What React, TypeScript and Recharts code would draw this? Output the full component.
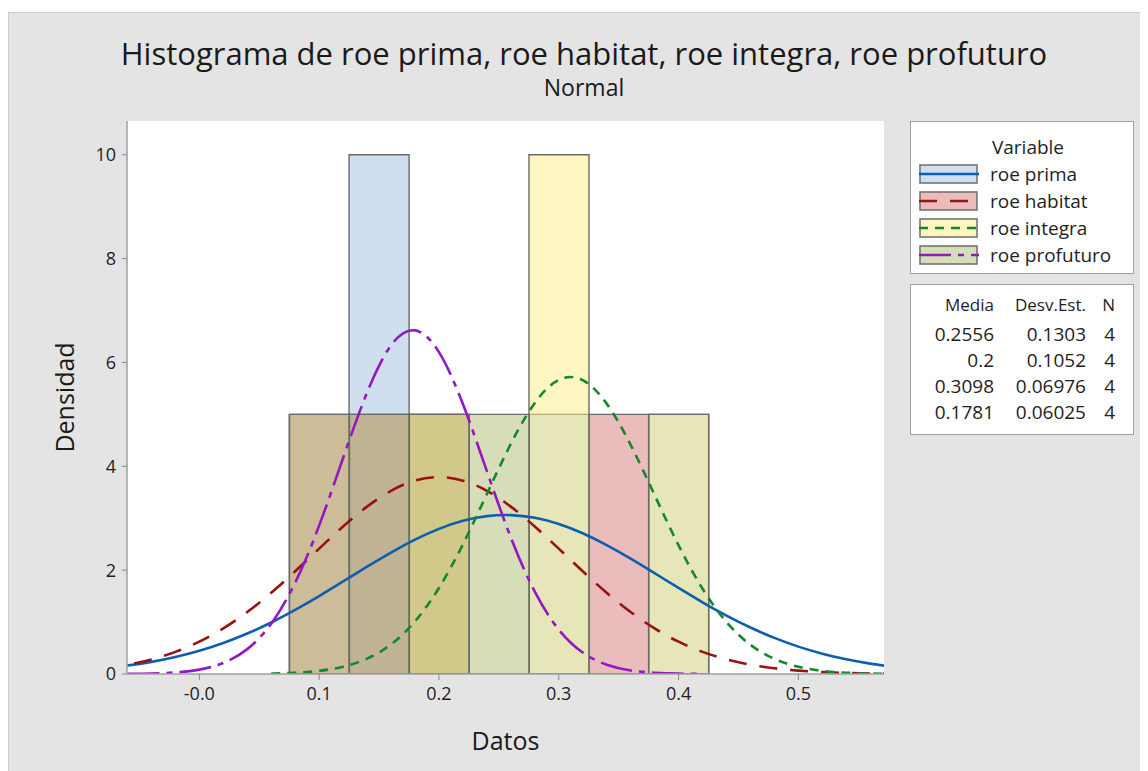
import { ComposedChart, Bar, Line, XAxis, YAxis, CartesianGrid } from 'recharts';

// histogram bins (width 0.05), density = count / (N * 0.05)
const binCenters = [0.1, 0.15, 0.2, 0.25, 0.3, 0.35, 0.4];
const primaHist = [0, 10, 0, 0, 5, 0, 5];
const habitatHist = [5, 5, 5, 0, 0, 5, 0];
const integraHist = [0, 0, 5, 0, 10, 0, 5];
const profuturoHist = [5, 5, 5, 5, 0, 0, 0];

// fitted normal curves
const curveX = [
  -0.08, -0.06, -0.04, -0.02, 0, 0.02, 0.04, 0.06, 0.08, 0.1, 0.12, 0.14, 0.16, 0.18, 0.2, 0.22, 0.24, 0.26,
  0.28, 0.3, 0.32, 0.34, 0.36, 0.38, 0.4, 0.42, 0.44, 0.46, 0.48, 0.5, 0.52, 0.54, 0.56, 0.58, 0.6,
];
const primaCurve = [
  0.111, 0.163, 0.233, 0.327, 0.447, 0.597, 0.779, 0.992, 1.235, 1.5, 1.782, 2.066, 2.339, 2.587, 2.795, 2.95,
  3.04, 3.06, 3.008, 2.889, 2.71, 2.482, 2.221, 1.941, 1.657, 1.381, 1.125, 0.895, 0.695, 0.527, 0.391, 0.283,
  0.2, 0.138, 0.093,
];
const habitatCurve = [
  0.11, 0.179, 0.281, 0.426, 0.622, 0.878, 1.193, 1.564, 1.978, 2.414, 2.84, 3.223, 3.528, 3.724, 3.792, 3.724,
  3.528, 3.223, 2.84, 2.414, 1.978, 1.564, 1.193, 0.878, 0.622, 0.426, 0.281, 0.179, 0.11, 0.065, 0.037, 0.02,
  0.011, 0.006, 0.003,
];
const integraCurve = [
  null, null, null, null, null, null, null, 0.009, 0.025, 0.062, 0.141, 0.296, 0.57, 1.013, 1.657, 2.497,
  3.467, 4.433, 5.22, 5.663, 5.658, 5.207, 4.414, 3.447, 2.479, 1.643, 1.002, 0.563, 0.292, 0.139, 0.061, 0.025,
  0.009, 0.003, 0.001,
];
const profuturoCurve = [
  null, 0.003, 0.009, 0.03, 0.084, 0.212, 0.479, 0.969, 1.759, 2.858, 4.16, 5.421, 6.33, 6.618, 6.198, 5.199,
  3.906, 2.629, 1.585, 0.855, 0.413, 0.179, 0.069, 0.024, 0.007, 0.002, null, null, null, null, null, null,
  null, null, null,
];

const xTicks = [0, 0.1, 0.2, 0.3, 0.4, 0.5];
const xTickLabels = ['-0.0', '0.1', '0.2', '0.3', '0.4', '0.5'];
const yTicks = [0, 2, 4, 6, 8, 10];

const seriesNames = ['roe prima', 'roe habitat', 'roe integra', 'roe profuturo'];
const means = ['0.2556', '0.2', '0.3098', '0.1781'];
const stdDevs = ['0.1303', '0.1052', '0.06976', '0.06025'];
const counts = [4, 4, 4, 4];

const X_DOMAIN = [-0.0604, 0.5715];
const Y_DOMAIN = [0, 10.65];
const FONT = '"Open Sans", "Noto Sans", sans-serif';

const barFill = ['#a1bfdf', '#d57979', '#fbed81', '#afbb73'];
const swatchFill = ['#d0dfef', '#eabcbc', '#fdf6c0', '#d7ddb9'];
const lineColor = ['#0d5eaf', '#9b1010', '#12892c', '#9418c0'];
const lineDash = ['', '18 13', '9 7', '32 7 6 7'];
const keys = ['prima', 'habitat', 'integra', 'profuturo'];

const bins = binCenters.map((x, i) => ({
  x,
  prima: primaHist[i],
  habitat: habitatHist[i],
  integra: integraHist[i],
  profuturo: profuturoHist[i],
}));

const curve = curveX.map((x, i) => ({
  x,
  prima: primaCurve[i],
  habitat: habitatCurve[i],
  integra: integraCurve[i],
  profuturo: profuturoCurve[i],
}));

const tickStyle = { fill: '#1e1e1e', fontSize: 18, fontFamily: FONT };

function LegendBoxes() {
  const statRows = [['Media', 'Desv.Est.', 'N'], ...means.map((m, i) => [m, stdDevs[i], String(counts[i])])];
  return (
    <>
      <div
        style={{
          position: 'absolute', left: 902, top: 109, width: 222, height: 151,
          background: '#fff', border: '1px solid #a0a0a0', fontFamily: FONT, fontSize: 19, color: '#1e1e1e',
        }}
      >
        <div style={{ position: 'absolute', left: 0, width: 234, top: 12, lineHeight: '26px', textAlign: 'center' }}>Variable</div>
        {seriesNames.map((name, i) => (
          <div key={name} style={{ position: 'absolute', left: 8, top: 41 + i * 27, height: 22, display: 'flex', alignItems: 'center' }}>
            <svg width={60} height={22}>
              <rect x={1} y={2} width={57} height={18} fill={swatchFill[i]} stroke="#6e6e6e" strokeWidth={1.5} />
              <line x1={0} y1={11} x2={60} y2={11} stroke={lineColor[i]} strokeWidth={2.5} strokeDasharray={lineDash[i] || undefined} />
            </svg>
            <span style={{ marginLeft: 11, lineHeight: '22px' }}>{name}</span>
          </div>
        ))}
      </div>
      <div
        style={{
          position: 'absolute', left: 902, top: 272, width: 222, height: 149,
          background: '#fff', border: '1px solid #a0a0a0', fontFamily: FONT, fontSize: 19, color: '#1e1e1e',
        }}
      >
        {statRows.map((row, r) => (
          <div
            key={r}
            style={{
              position: 'absolute', top: (r === 0 ? 20 : 23) + r * 26 - 13, left: 0, width: 222, height: 26,
              lineHeight: '26px', fontSize: r === 0 ? 17 : 19,
            }}
          >
            <span style={{ position: 'absolute', right: 222 - 83 }}>{row[0]}</span>
            <span style={{ position: 'absolute', right: 222 - 175 }}>{row[1]}</span>
            <span style={{ position: 'absolute', right: 222 - 204 }}>{row[2]}</span>
          </div>
        ))}
      </div>
    </>
  );
}

export default function App() {
  return (
    <div
      style={{
        position: 'relative', width: 1140, height: 759, marginTop: 4,
        background: '#e4e4e4', boxShadow: 'inset 1px 1px 0 #cdcdcd',
      }}
    >
      <div style={{ position: 'absolute', left: 0, width: 1152, top: 20, lineHeight: '42px', textAlign: 'center', fontFamily: FONT, fontSize: 31, color: '#1a1a1a' }}>
        Histograma de roe prima, roe habitat, roe integra, roe profuturo
      </div>
      <div style={{ position: 'absolute', left: 0, width: 1152, top: 60, lineHeight: '31px', textAlign: 'center', fontFamily: FONT, fontSize: 23, color: '#1a1a1a' }}>
        Normal
      </div>
      <div style={{ position: 'absolute', left: 0, top: 0 }}>
        <ComposedChart
          width={1140}
          height={759}
          data={bins}
          margin={{ top: 109, right: 264, bottom: 0, left: 0 }}
          barCategoryGap={0}
          barGap="-100%"
        >
          <CartesianGrid xAxisId="curve" yAxisId="d" fill="#ffffff" horizontal={false} vertical={false} />
          <XAxis
            xAxisId="bins"
            orientation="top"
            type="number"
            dataKey="x"
            domain={X_DOMAIN}
            allowDataOverflow
            ticks={binCenters}
            tick={false}
            tickLine={false}
            height={0}
            axisLine={{ stroke: '#a0a0a0', strokeWidth: 1.5 }}
          />
          <XAxis
            xAxisId="curve"
            type="number"
            dataKey="x"
            domain={X_DOMAIN}
            allowDataOverflow
            ticks={xTicks}
            tickFormatter={(v: number) => xTickLabels[xTicks.indexOf(v)] ?? String(v)}
            tick={tickStyle}
            tickSize={6}
            tickMargin={7}
            height={97}
            axisLine={{ stroke: '#a0a0a0', strokeWidth: 1.5 }}
            tickLine={{ stroke: '#8a8a8a' }}
            label={{ value: 'Datos', position: 'insideBottom', offset: 21, fill: '#1a1a1a', fontSize: 25, fontFamily: FONT }}
          />
          <YAxis
            yAxisId="d"
            type="number"
            domain={Y_DOMAIN}
            allowDataOverflow
            ticks={yTicks}
            tick={tickStyle}
            tickSize={5}
            tickMargin={6}
            width={119}
            axisLine={{ stroke: '#a0a0a0', strokeWidth: 1.5 }}
            tickLine={{ stroke: '#8a8a8a' }}
            label={{
              value: 'Densidad', angle: -90, position: 'insideLeft', offset: 57,
              fill: '#1a1a1a', fontSize: 25, fontFamily: FONT, style: { textAnchor: 'middle' },
            }}
          />
          <YAxis
            yAxisId="r"
            orientation="right"
            type="number"
            domain={Y_DOMAIN}
            tick={false}
            tickLine={false}
            width={0}
            axisLine={{ stroke: '#a0a0a0', strokeWidth: 1.5 }}
          />
          {keys.map((k, i) => (
            <Bar
              key={`bar-${k}`}
              xAxisId="bins"
              yAxisId="d"
              dataKey={k}
              fill={barFill[i]}
              fillOpacity={0.5}
              stroke="#6a6a6a"
              strokeWidth={1.4}
              isAnimationActive={false}
            />
          ))}
          {keys.map((k, i) => (
            <Line
              key={`line-${k}`}
              data={curve}
              xAxisId="curve"
              yAxisId="d"
              dataKey={k}
              type="natural"
              stroke={lineColor[i]}
              strokeWidth={2.6}
              strokeDasharray={lineDash[i] || undefined}
              dot={false}
              activeDot={false}
              isAnimationActive={false}
            />
          ))}
        </ComposedChart>
      </div>
      <LegendBoxes />
    </div>
  );
}
